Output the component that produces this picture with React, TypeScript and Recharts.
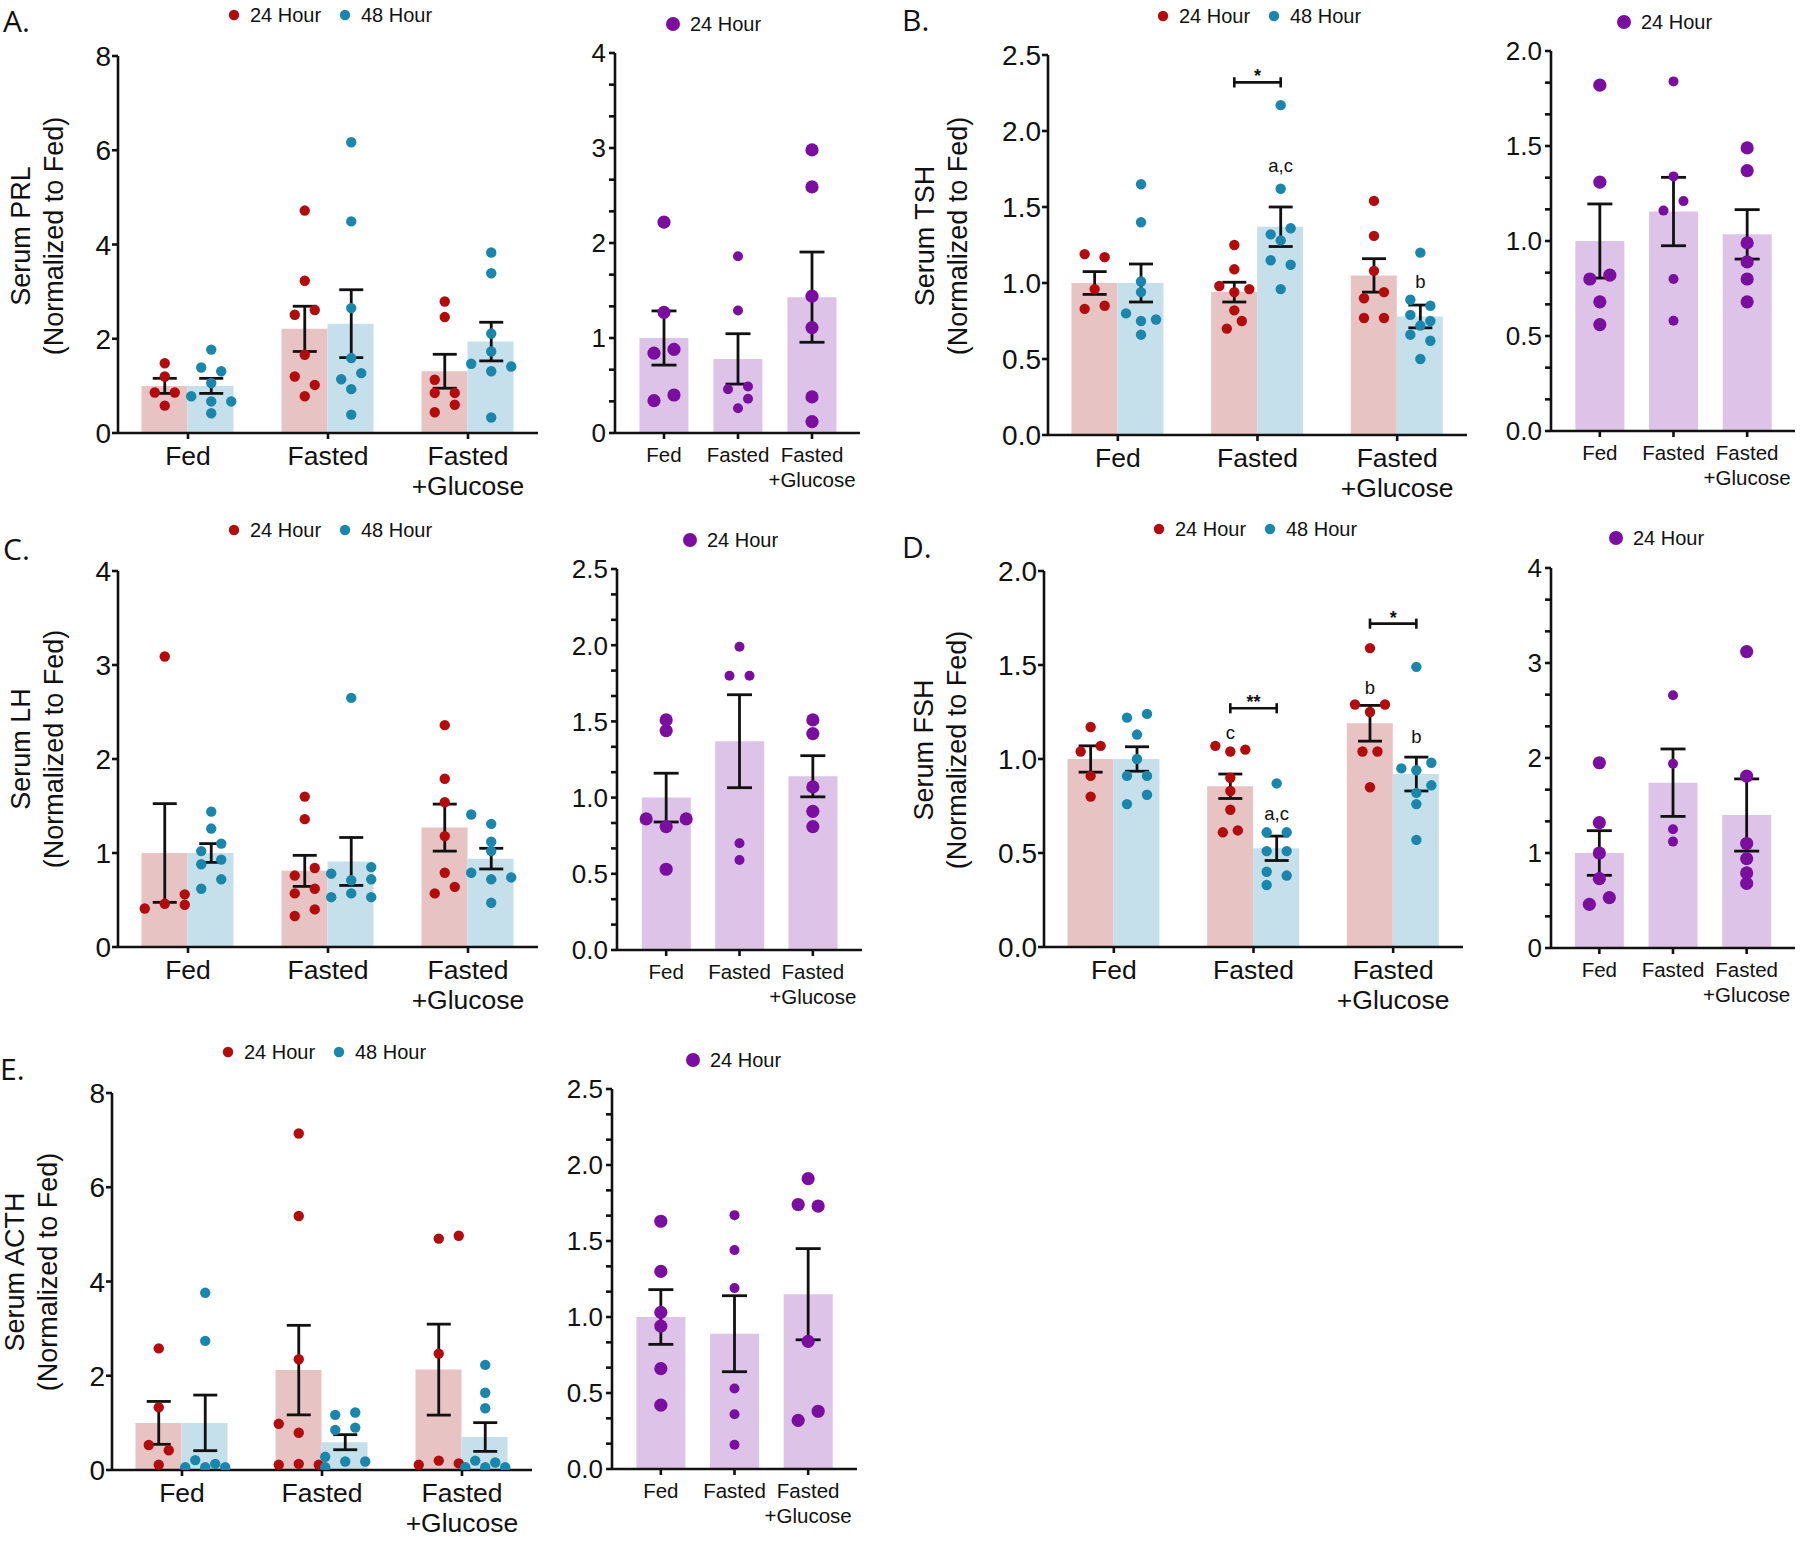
import React from 'react';
import { ComposedChart, Bar, Scatter, XAxis, YAxis, ErrorBar, ReferenceLine } from 'recharts';

const FONT = '"Liberation Sans", Arial, Helvetica, sans-serif';
const INK = '#111111';
const RED = '#b30c0c';
const RED_BAR = '#e8c3c4';
const BLUE = '#1b86ac';
const BLUE_BAR = '#c5e0ea';
const PURPLE = '#7a0f9f';
const PURPLE_BAR = '#dcc3e7';

const categories = ['Fed', 'Fasted', 'Fasted+Glucose'];
const seriesNames = ['24 Hour', '48 Hour'];

// each dot: [jitter column, value]
type Dot = [number, number];

// Serum PRL
const prl24Mean = [1.0, 2.21, 1.31];
const prl24Sem = [0.16, 0.48, 0.36];
const prl24Dots: Dot[][] = [
  [[0, 1.48], [0, 1.2], [-1, 0.86], [1, 0.86], [0, 0.58]],
  [[0, 4.72], [0, 3.23], [-1, 2.51], [1, 2.61], [0, 1.66], [-1, 1.2], [1, 1.02], [0, 0.78]],
  [[0, 2.79], [0, 2.46], [-1, 1.13], [-1, 0.85], [1, 0.85], [1, 0.6], [-1, 0.44]],
];
const prl48Mean = [1.0, 2.32, 1.94];
const prl48Sem = [0.16, 0.72, 0.41];
const prl48Dots: Dot[][] = [
  [[0, 1.77], [-1, 1.39], [1, 1.31], [0, 1.06], [-2, 0.78], [2, 0.67], [0, 0.67], [0, 0.42]],
  [[0, 6.17], [0, 4.49], [0, 2.65], [0, 1.59], [-1, 1.14], [1, 1.27], [0, 0.93], [0, 0.39]],
  [[0, 3.83], [0, 3.39], [0, 2.11], [0, 1.73], [-2, 1.47], [2, 1.41], [0, 1.31], [0, 0.33]],
];
const prlPMean = [1.0, 0.78, 1.43];
const prlPSem = [0.285, 0.265, 0.475];
const prlPDots: Dot[][] = [
  [[0, 2.22], [0, 1.27], [-1, 0.84], [1, 0.88], [-1, 0.34], [1, 0.4]],
  [[0, 1.86], [0, 1.29], [-1, 0.46], [1, 0.49], [1, 0.36], [0, 0.26]],
  [[0, 2.98], [0, 2.59], [0, 1.44], [0, 1.11], [0, 0.38], [0, 0.12]],
];

// Serum TSH
const tsh24Mean = [1.0, 0.94, 1.05];
const tsh24Sem = [0.075, 0.065, 0.11];
const tsh24Dots: Dot[][] = [
  [[-1, 1.19], [1, 1.17], [0, 0.96], [-1, 0.83], [1, 0.85]],
  [[0, 1.25], [0, 1.09], [-1.5, 0.98], [1.5, 0.96], [0, 0.94], [0, 0.82], [0.75, 0.75], [-0.75, 0.7]],
  [[0, 1.54], [0, 1.31], [0, 1.08], [-1, 0.9], [1, 0.94], [-1, 0.77], [1, 0.77]],
];
const tsh48Mean = [1.0, 1.37, 0.78];
const tsh48Sem = [0.125, 0.13, 0.075];
const tsh48Dots: Dot[][] = [
  [[0, 1.65], [0, 1.4], [0, 1.01], [0, 0.94], [-1.5, 0.8], [0, 0.75], [1.5, 0.76], [0, 0.66]],
  [[0, 2.17], [0, 1.62], [-1, 1.32], [1, 1.36], [0, 1.28], [-1, 1.15], [1, 1.12], [0, 0.96]],
  [[0, 1.2], [-1, 0.89], [1, 0.85], [-1, 0.79], [0, 0.72], [1, 0.75], [-1, 0.66], [1, 0.62], [0, 0.5]],
];
const tshPMean = [1.0, 1.155, 1.035];
const tshPSem = [0.195, 0.18, 0.13];
const tshPDots: Dot[][] = [
  [[0, 1.82], [0, 1.31], [-1, 0.8], [1, 0.82], [0, 0.68], [0, 0.56]],
  [[0, 1.84], [0, 1.34], [-1, 1.16], [1, 1.21], [0, 0.8], [0, 0.58]],
  [[0, 1.49], [0, 1.37], [0, 0.99], [0, 0.89], [0, 0.8], [0, 0.68]],
];

// Serum LH
const lh24Mean = [1.0, 0.81, 1.27];
const lh24Sem = [0.525, 0.165, 0.25];
const lh24Dots: Dot[][] = [
  [[0, 3.09], [-2, 0.41], [0, 0.46], [2, 0.56], [2, 0.45]],
  [[0, 1.6], [0, 1.36], [1, 0.84], [-1, 0.76], [1, 0.62], [-1, 0.57], [1, 0.4], [-1, 0.33]],
  [[0, 2.36], [0, 1.79], [0, 1.54], [0, 1.18], [0, 0.79], [-1, 0.57], [1, 0.64]],
];
const lh48Mean = [1.0, 0.91, 0.94];
const lh48Sem = [0.1, 0.255, 0.11];
const lh48Dots: Dot[][] = [
  [[0, 1.44], [0, 1.26], [1, 1.1], [-1, 1.02], [1, 0.93], [-1, 0.88], [1, 0.72], [-1, 0.62]],
  [[0, 2.65], [-2, 0.78], [2, 0.85], [0, 0.71], [2, 0.72], [-2, 0.53], [0, 0.57], [2, 0.53]],
  [[-2, 1.41], [0, 1.31], [0, 1.12], [0, 1.02], [-2, 0.79], [2, 0.74], [0, 0.72], [0, 0.47]],
];
const lhPMean = [1.0, 1.37, 1.14];
const lhPSem = [0.16, 0.305, 0.135];
const lhPDots: Dot[][] = [
  [[0, 1.51], [0, 1.44], [-2, 0.86], [2, 0.86], [0, 0.81], [0, 0.53]],
  [[0, 1.99], [-1, 1.8], [1, 1.8], [0, 0.7], [0, 0.59]],
  [[0, 1.51], [0, 1.42], [0, 1.07], [0, 0.91], [0, 0.81]],
];

// Serum FSH
const fsh24Mean = [1.0, 0.855, 1.19];
const fsh24Sem = [0.07, 0.065, 0.095];
const fsh24Dots: Dot[][] = [
  [[0, 1.17], [-1, 1.04], [1, 1.07], [0, 0.91], [0, 0.8]],
  [[-1.5, 1.07], [0, 1.04], [1.5, 1.05], [0, 0.9], [0, 0.83], [0, 0.73], [-0.75, 0.61], [0.75, 0.62]],
  [[0, 1.59], [-1.5, 1.29], [1.5, 1.29], [0, 1.25], [-0.75, 1.04], [0.75, 1.04], [0, 0.85]],
];
const fsh48Mean = [1.0, 0.525, 0.92];
const fsh48Sem = [0.065, 0.065, 0.09];
const fsh48Dots: Dot[][] = [
  [[-1, 1.22], [1, 1.24], [0, 1.13], [0, 1.0], [-1, 0.91], [1, 0.91], [1, 0.81], [-1, 0.76]],
  [[0, 0.87], [-1, 0.61], [1, 0.61], [-1, 0.51], [1, 0.51], [-1, 0.4], [1, 0.38], [-1, 0.33]],
  [[0, 1.49], [-1.5, 0.95], [0, 0.94], [1.5, 0.98], [1.5, 0.86], [0, 0.82], [0, 0.76], [0, 0.57]],
];
const fshPMean = [1.0, 1.74, 1.4];
const fshPSem = [0.235, 0.355, 0.38];
const fshPDots: Dot[][] = [
  [[0, 1.95], [0, 1.32], [0, 1.0], [0, 0.73], [-1, 0.46], [1, 0.53]],
  [[0, 2.66], [0, 1.94], [0, 1.25], [0, 1.12]],
  [[0, 3.12], [0, 1.81], [0, 1.1], [0, 0.94], [0, 0.79], [0, 0.68]],
];

// Serum ACTH
const acth24Mean = [1.0, 2.12, 2.13];
const acth24Sem = [0.455, 0.95, 0.965];
const acth24Dots: Dot[][] = [
  [[0, 2.58], [0, 1.33], [-1, 0.53], [1, 0.42], [0, 0.11]],
  [[0, 7.14], [0, 5.39], [0, 2.35], [-2, 0.98], [0, 0.79], [-2, 0.11], [0, 0.13], [2, 0.11]],
  [[0, 4.91], [2, 4.97], [0, 2.47], [-2, 0.11], [0, 0.2], [2, 0.14]],
];
const acth48Mean = [1.0, 0.59, 0.7];
const acth48Sem = [0.59, 0.16, 0.305];
const acth48Dots: Dot[][] = [
  [[0, 3.76], [0, 2.74], [-1, 0.21], [-2, 0.06], [0, 0.06], [1, 0.13], [2, 0.06]],
  [[-1, 1.17], [1, 1.22], [-1, 0.85], [1, 0.9], [-2, 0.28], [0, 0.18], [2, 0.18], [-2, 0.06]],
  [[0, 2.23], [0, 1.64], [0, 1.31], [-1, 0.2], [1, 0.16], [-2, 0.06], [0, 0.06], [2, 0.06]],
];
const acthPMean = [1.0, 0.89, 1.15];
const acthPSem = [0.18, 0.25, 0.3];
const acthPDots: Dot[][] = [
  [[0, 1.63], [0, 1.3], [0, 1.03], [0, 0.94], [0, 0.66], [0, 0.42]],
  [[0, 1.67], [0, 1.44], [0, 1.19], [0, 0.53], [0, 0.36], [0, 0.16]],
  [[0, 1.91], [-1, 1.74], [1, 1.73], [0, 0.84], [-1, 0.32], [1, 0.38]],
];

type Series = { name: string; color: string; fill: string; mean: number[]; sem: number[]; dots: Dot[][] };
type Note = { ci: number; gi: number; y: number; text: string };
type Bracket = { ci: number; y: number; text: string };
type PanelCfg = {
  box: number[]; // plot x0, x1, top, bottom
  pad: number[];
  yMax: number;
  yStep: number;
  ySub: number;
  dec: number;
  series: Series[];
  wide: boolean;
  notes?: Note[];
  brackets?: Bracket[];
};

const red = (mean: number[], sem: number[], dots: Dot[][]): Series => ({ name: seriesNames[0], color: RED, fill: RED_BAR, mean, sem, dots });
const blue = (mean: number[], sem: number[], dots: Dot[][]): Series => ({ name: seriesNames[1], color: BLUE, fill: BLUE_BAR, mean, sem, dots });
const purple = (mean: number[], sem: number[], dots: Dot[][]): Series => ({ name: seriesNames[0], color: PURPLE, fill: PURPLE_BAR, mean, sem, dots });

const panels: PanelCfg[] = [
  { box: [118, 538, 56, 433], pad: [0, 0], yMax: 8, yStep: 2, ySub: 1, dec: 0, wide: true,
    series: [red(prl24Mean, prl24Sem, prl24Dots), blue(prl48Mean, prl48Sem, prl48Dots)] },
  { box: [615, 860, 53, 433], pad: [12, 11], yMax: 4, yStep: 1, ySub: 3, dec: 0, wide: false,
    series: [purple(prlPMean, prlPSem, prlPDots)] },
  { box: [1048, 1467, 55, 435], pad: [0, 0], yMax: 2.5, yStep: 0.5, ySub: 1, dec: 1, wide: true,
    series: [red(tsh24Mean, tsh24Sem, tsh24Dots), blue(tsh48Mean, tsh48Sem, tsh48Dots)],
    notes: [{ ci: 1, gi: 1, y: 1.77, text: 'a,c' }, { ci: 2, gi: 1, y: 1.01, text: 'b' }],
    brackets: [{ ci: 1, y: 2.32, text: '*' }] },
  { box: [1551, 1795, 51, 431], pad: [12, 11], yMax: 2, yStep: 0.5, ySub: 3, dec: 1, wide: false,
    series: [purple(tshPMean, tshPSem, tshPDots)] },
  { box: [118, 538, 571, 947], pad: [0, 0], yMax: 4, yStep: 1, ySub: 1, dec: 0, wide: true,
    series: [red(lh24Mean, lh24Sem, lh24Dots), blue(lh48Mean, lh48Sem, lh48Dots)] },
  { box: [617, 862, 569, 950], pad: [12.5, 12.5], yMax: 2.5, yStep: 0.5, ySub: 3, dec: 1, wide: false,
    series: [purple(lhPMean, lhPSem, lhPDots)] },
  { box: [1044, 1463, 571, 947], pad: [0, 0], yMax: 2, yStep: 0.5, ySub: 1, dec: 1, wide: true,
    series: [red(fsh24Mean, fsh24Sem, fsh24Dots), blue(fsh48Mean, fsh48Sem, fsh48Dots)],
    notes: [
      { ci: 1, gi: 0, y: 1.14, text: 'c' }, { ci: 1, gi: 1, y: 0.71, text: 'a,c' },
      { ci: 2, gi: 0, y: 1.38, text: 'b' }, { ci: 2, gi: 1, y: 1.12, text: 'b' },
    ],
    brackets: [{ ci: 1, y: 1.27, text: '**' }, { ci: 2, y: 1.72, text: '*' }] },
  { box: [1551, 1795, 568, 948], pad: [11.5, 11.5], yMax: 4, yStep: 1, ySub: 3, dec: 0, wide: false,
    series: [purple(fshPMean, fshPSem, fshPDots)] },
  { box: [112, 532, 1093, 1470], pad: [0, 0], yMax: 8, yStep: 2, ySub: 1, dec: 0, wide: true,
    series: [red(acth24Mean, acth24Sem, acth24Dots), blue(acth48Mean, acth48Sem, acth48Dots)] },
  { box: [612, 857, 1089, 1469], pad: [12, 12], yMax: 2.5, yStep: 0.5, ySub: 3, dec: 1, wide: false,
    series: [purple(acthPMean, acthPSem, acthPDots)] },
];

// page decorations
const letters = [
  { t: 'A.', x: 3, y: 32 }, { t: 'B.', x: 902, y: 31 }, { t: 'C.', x: 3, y: 560 },
  { t: 'D.', x: 902, y: 558 }, { t: 'E.', x: 0, y: 1080 },
];
const yTitles = [
  { t: 'Serum PRL', x: 37, y: 236 }, { t: 'Serum TSH', x: 941, y: 236 }, { t: 'Serum LH', x: 37, y: 749 },
  { t: 'Serum FSH', x: 940, y: 750 }, { t: 'Serum ACTH', x: 31, y: 1272 },
];
const legends = [
  { x: 234, y: 15, pair: true }, { x: 673, y: 24, pair: false },
  { x: 1163, y: 16, pair: true }, { x: 1624, y: 22, pair: false },
  { x: 234, y: 530, pair: true }, { x: 690, y: 540, pair: false },
  { x: 1159, y: 529, pair: true }, { x: 1616, y: 538, pair: false },
  { x: 228, y: 1052, pair: true }, { x: 693, y: 1060, pair: false },
];

function axisTicks(max: number, step: number, sub: number) {
  const out: number[] = [];
  const n = Math.round((max / step) * sub);
  for (let i = 0; i <= n; i++) out.push((i * step) / sub);
  return out;
}

const axisStyle = { stroke: INK, strokeWidth: 2.6 };

function Panel({ cfg }: { cfg: PanelCfg }) {
  const { box, pad, yMax, yStep, ySub, dec, series, wide } = cfg;
  const [x0, x1, yTop, yBot] = box;
  const yW = wide ? 110 : 80;
  const mt = 24;
  const mr = 12;
  const xH = 82;
  const left = x0 - yW;
  const top = yTop - mt;
  const width = x1 + mr - left;
  const height = yBot + xH - top;
  const band = (x1 - x0 - pad[0] - pad[1]) / categories.length;
  const gapFrac = 0.168;
  const half = (1 - 2 * gapFrac) / 4;
  const offsets = series.length === 2 ? [-half, half] : [0];
  const step = 10 / band;
  const tickFs = wide ? 28 : 26;
  const xFs = wide ? 26.5 : 20.5;
  const capW = wide ? 12 : 12.5;
  const minor = yStep / ySub;

  const rows = categories.map((cat, ci) => {
    const r: Record<string, any> = { cat };
    series.forEach((s, k) => {
      r['m' + k] = s.mean[ci];
    });
    return r;
  });
  const ticks = axisTicks(yMax, yStep, ySub);

  const yTick = (p: any) => {
    const v = p.payload.value as number;
    if (Math.round(v / minor) % ySub !== 0) return <g />;
    return (
      <text x={p.x} y={p.y} dy="0.36em" textAnchor="end" fontSize={tickFs} fontFamily={FONT} fill={INK}>
        {v.toFixed(dec)}
      </text>
    );
  };
  const xTick = (p: any) => {
    const [a, b] = String(p.payload.value).split('+');
    const lines = b ? [a, '+' + b] : [a];
    return (
      <text x={p.x} y={p.y} textAnchor="middle" fontSize={xFs} fontFamily={FONT} fill={INK}>
        {lines.map((l, i) => (
          <tspan key={i} x={p.x} dy={i === 0 ? (wide ? 24 : 21) : wide ? 30 : 25}>
            {l}
          </tspan>
        ))}
      </text>
    );
  };

  const dotR = (ci: number) => (wide ? 5.2 : ci === 1 ? 5 : 6.6);
  const cap = yMax * 0.0135;

  return (
    <div style={{ position: 'absolute', left, top }}>
      <ComposedChart
        width={width}
        height={height}
        data={rows}
        margin={{ top: mt, right: mr, bottom: 0, left: 0 }}
        barCategoryGap={`${gapFrac * 100}%`}
        barGap={0}
      >
        <XAxis xAxisId="cat" dataKey="cat" type="category" height={xH} padding={{ left: pad[0], right: pad[1] }}
          interval={0} tick={xTick} tickSize={6} axisLine={axisStyle} tickLine={axisStyle} />
        <XAxis xAxisId="num" dataKey="x" type="number" domain={[0, 3]} hide allowDataOverflow
          padding={{ left: pad[0], right: pad[1] }} />
        <YAxis type="number" domain={[0, yMax]} ticks={ticks} interval={0} width={yW} tick={yTick}
          tickSize={6} tickMargin={wide ? 1 : 3} axisLine={axisStyle} tickLine={axisStyle} allowDataOverflow />
        {series.map((s, k) => (
          <Bar key={'bar' + k} xAxisId="cat" dataKey={'m' + k} name={s.name} fill={s.fill} isAnimationActive={false} />
        ))}
        {(cfg.brackets ?? []).flatMap((b, i) => {
          const xa = b.ci + 0.5 + offsets[0];
          const xb = b.ci + 0.5 + offsets[1];
          return [
            <ReferenceLine key={'bh' + i} xAxisId="num" segment={[{ x: xa, y: b.y }, { x: xb, y: b.y }]} stroke={INK} strokeWidth={2.6} />,
            <ReferenceLine key={'bl' + i} xAxisId="num" segment={[{ x: xa, y: b.y - cap }, { x: xa, y: b.y + cap }]} stroke={INK} strokeWidth={2.6} />,
            <ReferenceLine key={'br' + i} xAxisId="num" segment={[{ x: xb, y: b.y - cap }, { x: xb, y: b.y + cap }]} stroke={INK} strokeWidth={2.6} />,
          ];
        })}
        {series.map((s, k) => {
          const pts = s.dots.flatMap((grp, ci) =>
            grp.map(([c, v]) => ({ x: ci + 0.5 + offsets[k] + c * step, y: v, ci })),
          );
          return (
            <Scatter key={'dots' + k} xAxisId="num" data={pts} dataKey="y" isAnimationActive={false}
              shape={(p: any) => <circle cx={p.cx} cy={p.cy} r={dotR(p.payload?.ci ?? p.ci)} fill={s.color} />} />
          );
        })}
        {series.map((s, k) => {
          const pts = categories.map((_, ci) => ({ x: ci + 0.5 + offsets[k], y: s.mean[ci], err: s.sem[ci] }));
          return (
            <Scatter key={'err' + k} xAxisId="num" data={pts} dataKey="y" isAnimationActive={false} shape={() => <g />}>
              <ErrorBar dataKey="err" direction="y" width={capW} stroke={INK} strokeWidth={2.8} />
            </Scatter>
          );
        })}
        {cfg.notes || cfg.brackets ? (
          <Scatter
            xAxisId="num"
            isAnimationActive={false}
            dataKey="y"
            data={[
              ...(cfg.notes ?? []).map((n) => ({ x: n.ci + 0.5 + offsets[n.gi], y: n.y, text: n.text, star: false })),
              ...(cfg.brackets ?? []).map((b) => ({ x: b.ci + 0.5, y: b.y, text: b.text, star: true })),
            ]}
            shape={(p: any) => {
              const d = p.payload ?? p;
              return d.star ? (
                <text x={p.cx} y={p.cy} dy={0} textAnchor="middle" fontSize={18} fontWeight="bold" fontFamily={FONT} fill={INK}>
                  {d.text}
                </text>
              ) : (
                <text x={p.cx} y={p.cy} dy="0.33em" textAnchor="middle" fontSize={18.5} fontFamily={FONT} fill={INK}>
                  {d.text}
                </text>
              );
            }}
          />
        ) : null}
      </ComposedChart>
    </div>
  );
}

function Overlay() {
  return (
    <svg width={1800} height={1542} style={{ position: 'absolute', left: 0, top: 0, pointerEvents: 'none' }}>
      {letters.map((l) => (
        <text key={l.t} x={l.x} y={l.y} fontSize={30} fontFamily='"Open Sans", "Noto Sans", sans-serif' fill={INK}>
          {l.t}
        </text>
      ))}
      {yTitles.map((t) => (
        <g key={t.t} transform={`translate(${t.x},${t.y}) rotate(-90)`}>
          <text x={0} y={-16.5} dy="0.35em" textAnchor="middle" fontSize={27} fontFamily={FONT} fill={INK}>
            {t.t}
          </text>
          <text x={0} y={16.5} dy="0.35em" textAnchor="middle" fontSize={27} fontFamily={FONT} fill={INK}>
            (Normalized to Fed)
          </text>
        </g>
      ))}
      {legends.map((g, i) =>
        g.pair ? (
          <g key={i}>
            <circle cx={g.x} cy={g.y} r={5.2} fill={RED} />
            <text x={g.x + 16} y={g.y} dy="0.36em" fontSize={20} fontFamily={FONT} fill={INK}>{seriesNames[0]}</text>
            <circle cx={g.x + 111} cy={g.y} r={5.2} fill={BLUE} />
            <text x={g.x + 127} y={g.y} dy="0.36em" fontSize={20} fontFamily={FONT} fill={INK}>{seriesNames[1]}</text>
          </g>
        ) : (
          <g key={i}>
            <circle cx={g.x} cy={g.y} r={7} fill={PURPLE} />
            <text x={g.x + 17} y={g.y} dy="0.36em" fontSize={20} fontFamily={FONT} fill={INK}>{seriesNames[0]}</text>
          </g>
        ),
      )}
    </svg>
  );
}

export default function App() {
  return (
    <div style={{ position: 'absolute', left: 0, top: 0, width: 1800, height: 1542, background: '#fff', fontFamily: FONT }}>
      {panels.map((p, i) => (
        <Panel key={i} cfg={p} />
      ))}
      <Overlay />
    </div>
  );
}
